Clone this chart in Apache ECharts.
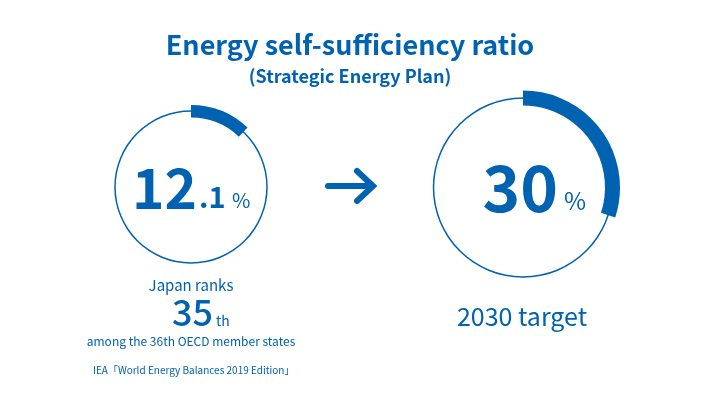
<!DOCTYPE html>
<html>
<head>
<meta charset="utf-8">
<script src="https://cdn.jsdelivr.net/npm/echarts@6/dist/echarts.min.js"></script>
<style>
html,body{margin:0;padding:0;background:#fff;}
#chart{width:701px;height:395px;}
</style>
</head>
<body>
<div id="chart"></div>
<script>
// ---- data ----
const titleText = 'Energy self-sufficiency ratio';
const subtitleText = '(Strategic Energy Plan)';
const ratioValues = [12.1, 30];          // percent
const ratioMax = 100;
const rankLines = ['Japan ranks', '35', 'th', 'among the 36th OECD member states'];
const sourceText = 'IEA\u300cWorld Energy Balances 2019 Edition\u300d';
const targetLabel = '2030 target';

// ---- style ----
const C = '#0062b1';
const FONT = '"Noto Sans CJK JP", "Noto Sans", sans-serif';

const rings = [
  { center: [191, 187], r: 76, thin: 1.5, outer: 82, width: 12.5 },
  { center: [523, 187.5], r: 89.5, thin: 1.5, outer: 97, width: 15 }
];

function outlineGauge(ring) {
  return {
    type: 'gauge', center: ring.center, radius: ring.r + ring.thin / 2,
    startAngle: 90, endAngle: -270, min: 0, max: ratioMax,
    axisLine: { lineStyle: { width: ring.thin, color: [[1, C]] } },
    splitLine: { show: false }, axisTick: { show: false }, axisLabel: { show: false },
    pointer: { show: false }, detail: { show: false }, title: { show: false },
    silent: true, animation: false, data: []
  };
}
function progressGauge(ring, v) {
  return {
    type: 'gauge', center: ring.center, radius: ring.outer,
    startAngle: 90, endAngle: -270, min: 0, max: ratioMax, clockwise: true,
    axisLine: { show: false },
    progress: { show: true, width: ring.width, roundCap: false, itemStyle: { color: C } },
    splitLine: { show: false }, axisTick: { show: false }, axisLabel: { show: false },
    pointer: { show: false }, detail: { show: false }, title: { show: false },
    silent: true, animation: false, data: [{ value: v }]
  };
}

function txt(text, x, y, size, weight, align) {
  return {
    type: 'text', x: x, y: y, silent: true,
    style: { text: text, fill: C, font: (weight || 'normal') + ' ' + size + 'px ' + FONT,
             textAlign: align || 'left', textVerticalAlign: 'middle' }
  };
}

const leftParts = String(ratioValues[0]).split('.');
const rightParts = String(ratioValues[1]).split('.');

const graphics = [
  txt(titleText, 350, 45, 27, 'bold', 'center'),
  txt(subtitleText, 350, 76, 18, 'bold', 'center'),
  // left value
  txt(leftParts[0], 197, 188, 55, 'bold', 'right'),
  txt('.' + leftParts[1], 199, 197, 29, 'bold', 'left'),
  txt('%', 232, 200, 20, 'normal', 'left'),
  // right value
  txt(rightParts[0], 558, 188, 64, 'bold', 'right'),
  txt('%', 564, 201, 24, 'normal', 'left'),
  // rank text
  txt(rankLines[0], 191, 285, 15, 'normal', 'center'),
  txt(rankLines[1], 213, 312, 36, '500', 'right'),
  txt(rankLines[2], 216, 321, 14, 'normal', 'left'),
  txt(rankLines[3], 191, 341, 12, 'normal', 'center'),
  txt(sourceText, 93, 370, 10, 'normal', 'left'),
  txt(targetLabel, 522, 316, 25, 'normal', 'center'),
  // arrow
  {
    type: 'polyline', silent: true,
    shape: { points: [[328, 186], [372, 186]] },
    style: { stroke: C, lineWidth: 6, lineCap: 'round', fill: null }
  },
  {
    type: 'polyline', silent: true,
    shape: { points: [[357, 171], [373, 186], [357, 201]] },
    style: { stroke: C, lineWidth: 6, lineCap: 'round', lineJoin: 'miter', fill: null }
  }
];

const chart = echarts.init(document.getElementById('chart'), null, { renderer: 'canvas' });
chart.setOption({
  backgroundColor: '#fff',
  animation: false,
  series: [
    outlineGauge(rings[0]), progressGauge(rings[0], ratioValues[0]),
    outlineGauge(rings[1]), progressGauge(rings[1], ratioValues[1])
  ],
  graphic: graphics
});
</script>
</body>
</html>
